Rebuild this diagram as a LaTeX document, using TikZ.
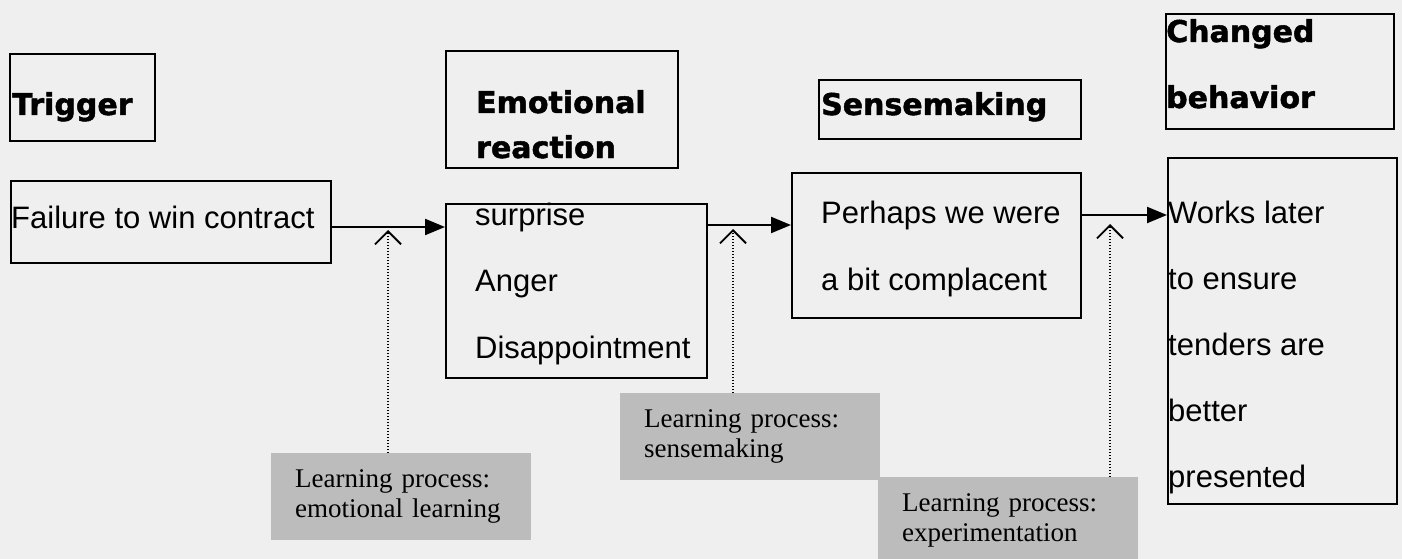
\documentclass[tikz,border=0pt]{standalone}
\usepackage{fontspec}
\setmainfont{Liberation Sans}
\newfontfamily\headfont{DejaVu Sans}[BoldFeatures={FakeBold=1.6}]
\newfontfamily\notefont{Liberation Serif}
\usetikzlibrary{arrows.meta}

\definecolor{paper}{RGB}{239,239,239}
\definecolor{notegrey}{RGB}{188,188,188}

\tikzset{
  box/.style={draw, line width=2.2pt, inner sep=0pt, anchor=north west},
  head/.style={font=\headfont\bfseries\fontsize{30}{30}\selectfont, inner sep=0pt, anchor=base west},
  body/.style={font=\fontsize{31}{31}\selectfont, inner sep=0pt, anchor=base west},
  note/.style={fill=notegrey, minimum width=260pt, minimum height=87pt, text width=212pt,
    inner xsep=24pt, inner ysep=0pt, anchor=north west, align=left,
    font=\notefont\fontsize{27}{30}\selectfont},
  flow/.style={line width=2.2pt, -{Triangle[length=20pt,width=16pt]}},
  probe/.style={line width=1.4pt, dash pattern=on 1.5pt off 1.5pt,
    -{Straight Barb[length=13pt,width=26pt,line width=1.8pt]}}
}

\begin{document}
\begin{tikzpicture}[x=1pt,y=-1pt]
  \useasboundingbox (0,0) rectangle (1402,559);
  \fill[paper] (0,0) rectangle (1402,559);
  \clip (0,0) rectangle (1402,559);

  % stage boxes
  \node[box, minimum width=145pt, minimum height=87pt] (trighead) at (9,53) {};
  \node[box, minimum width=320pt, minimum height=82pt] (fail) at (10,180) {};
  \node[box, minimum width=232pt, minimum height=117pt] (emohead) at (445,50) {};
  \node[box, minimum width=261pt, minimum height=174pt] (emo) at (445,203) {};
  \node[box, minimum width=262pt, minimum height=59pt] (sensehead) at (818,79) {};
  \node[box, minimum width=289pt, minimum height=145pt] (sense) at (791,172) {};
  \node[box, minimum width=228pt, minimum height=115pt] (chghead) at (1165,13) {};
  \node[box, minimum width=229pt, minimum height=346pt] (chg) at (1167,157) {};

  % texts
  \node[head] (trigtxt) at (12,115) {Trigger};
  \node[body] (failtxt) at (11,228) {Failure to win contract};
  \node[head] (emotxt1) at (476,113) {Emotional};
  \node[head] (emotxt2) at (476,158) {reaction};
  \foreach \word [count=\i from 0] in {surprise,Anger,Disappointment}
    \node[body] (feel\i) at (475,225+66.5*\i) {\word};
  \node[head] (sensetxt) at (821,115) {Sensemaking};
  \node[body] (thought1) at (821,223) {Perhaps we were};
  \node[body] (thought2) at (821,290) {a bit complacent};
  \node[head] (chgtxt1) at (1166,42) {Changed};
  \node[head] (chgtxt2) at (1166,108) {behavior};
  \foreach \txt [count=\i from 0] in {Works later,to ensure,tenders are,better,presented}
    \node[body] (act\i) at (1168,223+66*\i) {\txt};

  % learning processes
  \node[note] (learn1) at (271,453) {Learning process:\\emotional learning};
  \node[note] (learn2) at (620,393) {Learning process:\\sensemaking};
  \node[note] (learn3) at (878,477) {Learning process:\\experimentation};

  % arrows between stages
  \coordinate (lvl1) at (0,227);
  \coordinate (lvl2) at (0,225);
  \coordinate (lvl3) at (0,215);
  \draw[flow] (fail.east |- lvl1) -- (emo.west |- lvl1);
  \draw[flow] (emo.east |- lvl2) -- (sense.west |- lvl2);
  \draw[flow] (sense.east |- lvl3) -- (chg.west |- lvl3);

  % dotted pointers
  \coordinate (tip1) at (388,230);
  \coordinate (tip2) at (733,229);
  \coordinate (tip3) at (1110,224);
  \draw[probe] (learn1.north -| tip1) -- (tip1);
  \draw[probe] (learn2.north -| tip2) -- (tip2);
  \draw[probe] (learn3.north -| tip3) -- (tip3);
\end{tikzpicture}
\end{document}
